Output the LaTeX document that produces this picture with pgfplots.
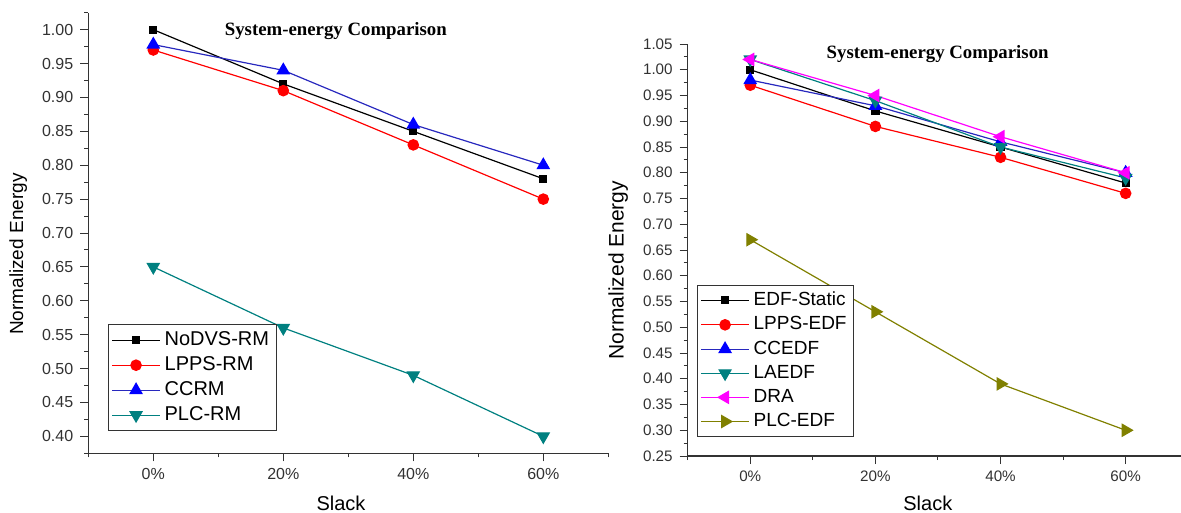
\documentclass[border=0pt]{standalone}
\usepackage{fontspec}
\setmainfont{Liberation Sans}
\newfontfamily\titlefont{Liberation Serif}
\usepackage{pgfplots}
\pgfplotsset{compat=1.18}

\definecolor{tickgray}{RGB}{50,50,50}
\definecolor{plcteal}{RGB}{0,128,128}
\definecolor{plcolive}{RGB}{128,128,0}
\definecolor{dramag}{RGB}{255,0,255}
\definecolor{ccblue}{RGB}{0,0,255}
\definecolor{ccline}{RGB}{40,40,190}

\pgfplotsset{
  energy/.style={
    scale only axis,
    axis lines*=left,
    axis line style={line width=0.7pt, black!80},
    xmin=-10,
    xtick={0,20,40,60}, xticklabels={0\%,20\%,40\%,60\%},
    minor xtick={-10,10,30,50,70},
    tick align=outside, major tick length=4pt, minor tick length=2pt,
    tick style={line width=0.5pt, black!80},
    tick label style={text=tickgray},
    /pgf/number format/assume math mode=true,
    yticklabel style={/pgf/number format/fixed, /pgf/number format/fixed zerofill, /pgf/number format/precision=2},
    ylabel={Normalized Energy}, xlabel={Slack},
    every axis plot/.append style={line width=0.6pt},
    legend cell align=left,
    legend image code/.code={\draw[mark repeat=2,mark phase=2,##1] plot coordinates {(0pt,0pt) (12pt,0pt) (24pt,0pt)};},
  },
  sq/.style={mark=square*, mark size=1.75pt},
  ci/.style={mark=*, mark size=2.6pt},
  tu/.style={mark=triangle*, mark size=3.4pt},
  td/.style={mark=triangle*, mark size=3.4pt, mark options={rotate=180}},
  tl/.style={mark=triangle*, mark size=3.4pt, mark options={rotate=90}},
  tr/.style={mark=triangle*, mark size=3.4pt, mark options={rotate=-90}},
}

\begin{document}
\begin{tikzpicture}
\path[use as bounding box] (0,0) rectangle (590.5pt,-256.5pt);

% left: RM
\begin{axis}[energy,
  at={(44.15pt,-226.65pt)}, anchor=south west,
  width=260pt, height=220.3pt,
  xmax=70, ymin=0.375, ymax=1.025,
  ytick={0.40,0.45,...,1.01},
  minor ytick={0.375,0.425,...,1.03},
  tick label style={font=\fontsize{8}{9}\selectfont},
  ylabel style={at={(axis description cs:-0.135,0.452)}, anchor=center, font=\fontsize{9.5}{11}\selectfont},
  xlabel style={at={(axis description cs:0.486,-0.113)}, anchor=center, font=\fontsize{10}{12}\selectfont},
  legend style={at={(axis description cs:0.038,0.0506)}, anchor=south west,
    font=\fontsize{10}{12}\selectfont, draw=black!80, inner sep=1.5pt, row sep=0pt},
]
\addplot[black, sq] coordinates {(0,1.00) (20,0.92) (40,0.85) (60,0.78)};
\addplot[red, ci] coordinates {(0,0.97) (20,0.91) (40,0.83) (60,0.75)};
\addplot[ccline, tu, mark options={fill=ccblue, draw=ccblue}] coordinates {(0,0.978) (20,0.94) (40,0.86) (60,0.80)};
\addplot[plcteal, td] coordinates {(0,0.65) (20,0.56) (40,0.49) (60,0.40)};
\legend{NoDVS-RM, LPPS-RM, CCRM, PLC-RM}
\node[font=\titlefont\bfseries\fontsize{9.4}{11}\selectfont] at (axis description cs:0.476,0.958) {System-energy Comparison};
\end{axis}

% right: EDF
\begin{axis}[energy,
  at={(343.85pt,-228pt)}, anchor=south west,
  width=246.5pt, height=206pt,
  xmax=68.8, ymin=0.25, ymax=1.05,
  ytick={0.25,0.30,...,1.06},
  minor ytick={0.275,0.325,...,1.04},
  tick label style={font=\fontsize{7.6}{9}\selectfont},
  ylabel style={at={(axis description cs:-0.141,0.451)}, anchor=center, font=\fontsize{10.5}{12}\selectfont},
  xlabel style={at={(axis description cs:0.487,-0.114)}, anchor=center, font=\fontsize{10}{12}\selectfont},
  legend style={at={(axis description cs:0.019,0.046)}, anchor=south west,
    font=\fontsize{9.5}{11}\selectfont, draw=black!80, inner sep=1.5pt, row sep=0pt},
]
\addplot[black, sq] coordinates {(0,1.00) (20,0.92) (40,0.85) (60,0.78)};
\addplot[red, ci] coordinates {(0,0.97) (20,0.89) (40,0.83) (60,0.76)};
\addplot[ccline, tu, mark options={fill=ccblue, draw=ccblue}] coordinates {(0,0.98) (20,0.93) (40,0.86) (60,0.80)};
\addplot[plcteal, td] coordinates {(0,1.02) (20,0.94) (40,0.85) (60,0.79)};
\addplot[dramag, tl] coordinates {(0,1.02) (20,0.95) (40,0.87) (60,0.80)};
\addplot[plcolive, tr] coordinates {(0,0.67) (20,0.53) (40,0.39) (60,0.30)};
\legend{EDF-Static, LPPS-EDF, CCEDF, LAEDF, DRA, PLC-EDF}
\node[font=\titlefont\bfseries\fontsize{9.4}{11}\selectfont] at (axis description cs:0.507,0.976) {System-energy Comparison};
\end{axis}
\end{tikzpicture}
\end{document}
